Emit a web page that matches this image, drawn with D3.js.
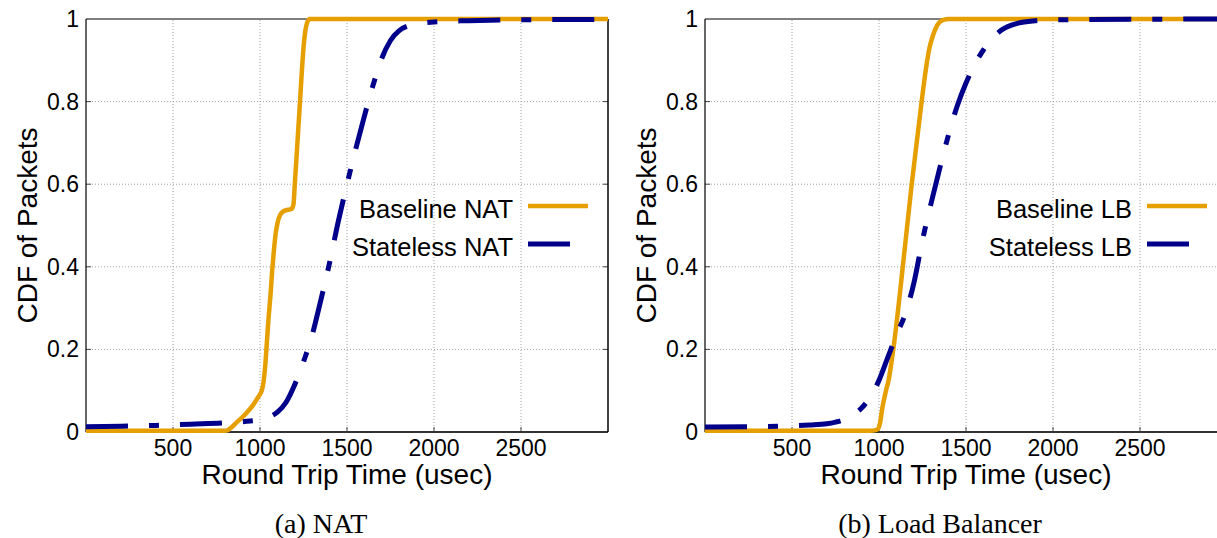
<!DOCTYPE html>
<html>
<head>
<meta charset="utf-8">
<script src="https://cdn.jsdelivr.net/npm/d3@7"></script>
<style>
body { margin: 0; background: #fff; }
text { font-family: "Liberation Sans", Arial, sans-serif; fill: #000; }
.caption { font-family: "Liberation Serif", "Times New Roman", serif; }
</style>
</head>
<body>
<script>
var xTicks = [500, 1000, 1500, 2000, 2500];
var yTicks = [0, 0.2, 0.4, 0.6, 0.8, 1];
var yTickLabels = ['0', '0.2', '0.4', '0.6', '0.8', '1'];
var gridY = [0.2, 0.4, 0.6, 0.8];

// [rtt usec, cdf]
var natBaseline = [[0, 0.003], [800, 0.003], [820, 0.006], [870, 0.025], [920, 0.045],
  [960, 0.065], [990, 0.085], [1010, 0.1], [1020, 0.12], [1030, 0.16], [1040, 0.22],
  [1050, 0.28], [1060, 0.33], [1070, 0.39], [1080, 0.44], [1090, 0.48], [1100, 0.505],
  [1115, 0.525], [1130, 0.533], [1150, 0.537], [1180, 0.54], [1192, 0.55], [1200, 0.6],
  [1215, 0.7], [1230, 0.8], [1240, 0.87], [1250, 0.93], [1260, 0.97], [1270, 0.99],
  [1285, 1], [3000, 1]];
var natStateless = [[0, 0.013], [200, 0.014], [400, 0.016], [600, 0.019], [800, 0.022],
  [900, 0.025], [1000, 0.03], [1050, 0.036], [1100, 0.048], [1150, 0.072], [1200, 0.115],
  [1250, 0.17], [1300, 0.235], [1350, 0.32], [1400, 0.41], [1450, 0.51], [1500, 0.6],
  [1550, 0.685], [1600, 0.765], [1650, 0.84], [1700, 0.905], [1750, 0.948], [1800, 0.972],
  [1850, 0.983], [1900, 0.988], [2000, 0.993], [2200, 0.996], [2500, 0.998], [3000, 0.999]];
var lbBaseline = [[0, 0.003], [960, 0.003], [990, 0.006], [1005, 0.02], [1020, 0.06],
  [1040, 0.1], [1055, 0.125], [1082, 0.2], [1147, 0.44], [1188, 0.6], [1245, 0.8],
  [1270, 0.88], [1290, 0.93], [1310, 0.96], [1335, 0.985], [1370, 0.998], [1400, 1],
  [3000, 1]];
var lbStateless = [[0, 0.012], [300, 0.013], [500, 0.015], [600, 0.017], [700, 0.02],
  [750, 0.024], [800, 0.03], [850, 0.042], [900, 0.058], [950, 0.085], [1000, 0.125],
  [1050, 0.18], [1100, 0.235], [1150, 0.285], [1200, 0.36], [1250, 0.465], [1300, 0.555],
  [1350, 0.64], [1400, 0.72], [1450, 0.79], [1500, 0.845], [1550, 0.89], [1600, 0.925],
  [1650, 0.952], [1700, 0.972], [1800, 0.99], [1900, 0.996], [2000, 0.998], [3000, 1]];

var natNames = ['Baseline NAT', 'Stateless NAT'];
var lbNames = ['Baseline LB', 'Stateless LB'];
var captions = ['(a) NAT', '(b) Load Balancer'];

var colors = ['#e69f00', '#00008b'];
var dashes = [null, '42,21,10,21'];
var widths = [4.5, 5];

var width = 1217;
var height = 538;

var svg = d3.select('body').append('svg')
  .attr('width', width)
  .attr('height', height);

var panels = [
  {left: 86, series: [natBaseline, natStateless], names: natNames, caption: captions[0], rightBorder: true},
  {left: 705, series: [lbBaseline, lbStateless], names: lbNames, caption: captions[1], rightBorder: false}
];

var plotW = 522;
var plotTop = 19;
var plotBottom = 432;

panels.forEach(function(p) {
  var x = d3.scaleLinear().domain([0, 3000]).range([p.left, p.left + plotW]);
  var y = d3.scaleLinear().domain([0, 1]).range([plotBottom, plotTop]);
  var g = svg.append('g');

  // grid
  g.selectAll('.gx').data(xTicks).enter().append('line')
    .attr('x1', x).attr('x2', x)
    .attr('y1', plotBottom).attr('y2', plotTop)
    .attr('stroke', '#a0a0a0').attr('stroke-width', 1)
    .attr('stroke-dasharray', '1,2');
  g.selectAll('.gy').data(gridY).enter().append('line')
    .attr('x1', x(0)).attr('x2', x(3000))
    .attr('y1', y).attr('y2', y)
    .attr('stroke', '#a0a0a0').attr('stroke-width', 1)
    .attr('stroke-dasharray', '1,2');

  // inner ticks
  g.selectAll('.tx').data(xTicks).enter().append('line')
    .attr('x1', x).attr('x2', x)
    .attr('y1', plotBottom).attr('y2', plotBottom - 5)
    .attr('stroke', '#444');
  g.selectAll('.ty').data(gridY).enter().append('line')
    .attr('x1', x(0)).attr('x2', x(0) + 5)
    .attr('y1', y).attr('y2', y)
    .attr('stroke', '#444');
  if (p.rightBorder) {
    g.selectAll('.ty2').data(gridY).enter().append('line')
      .attr('x1', x(3000)).attr('x2', x(3000) - 5)
      .attr('y1', y).attr('y2', y)
      .attr('stroke', '#444');
  }

  // border
  g.append('line').attr('x1', x(0)).attr('x2', x(3000)).attr('y1', plotTop).attr('y2', plotTop)
    .attr('stroke', '#000').attr('stroke-width', 1);
  g.append('line').attr('x1', x(0)).attr('x2', x(0)).attr('y1', plotTop).attr('y2', plotBottom)
    .attr('stroke', '#000').attr('stroke-width', 1.2);
  g.append('line').attr('x1', x(0)).attr('x2', x(3000)).attr('y1', plotBottom).attr('y2', plotBottom)
    .attr('stroke', '#333').attr('stroke-width', 2);
  if (p.rightBorder) {
    g.append('line').attr('x1', x(3000)).attr('x2', x(3000)).attr('y1', plotTop).attr('y2', plotBottom)
      .attr('stroke', '#000').attr('stroke-width', 1.5);
  }

  // tick labels
  g.selectAll('.lx').data(xTicks).enter().append('text')
    .attr('x', x).attr('y', 456)
    .attr('text-anchor', 'middle')
    .style('font-size', '23px')
    .text(function(d) { return d; });
  g.selectAll('.ly').data(yTicks).enter().append('text')
    .attr('x', x(0) - 7).attr('y', function(d) { return y(d) + 8; })
    .attr('text-anchor', 'end')
    .style('font-size', '23px')
    .text(function(d, i) { return yTickLabels[i]; });

  // axis titles
  g.append('text')
    .attr('x', (x(0) + x(3000)) / 2).attr('y', 484)
    .attr('text-anchor', 'middle')
    .style('font-size', '28px')
    .text('Round Trip Time (usec)');
  g.append('text')
    .attr('transform', 'translate(' + (x(0) - 49) + ',' + ((plotTop + plotBottom) / 2) + ') rotate(-90)')
    .attr('text-anchor', 'middle')
    .style('font-size', '28px')
    .text('CDF of Packets');

  // curves
  var line = d3.line()
    .x(function(d) { return x(d[0]); })
    .y(function(d) { return y(d[1]); })
    .curve(d3.curveMonotoneX);
  p.series.forEach(function(s, i) {
    g.append('path')
      .datum(s)
      .attr('d', line)
      .attr('fill', 'none')
      .attr('stroke', colors[i])
      .attr('stroke-width', widths[i])
      .attr('stroke-dasharray', dashes[i])
      .attr('stroke-linecap', 'butt');
  });

  // legend
  var lx2 = x(3000) - 20;
  var lx1 = lx2 - 60;
  p.names.forEach(function(name, i) {
    var ly = 206 + i * 38;
    g.append('text')
      .attr('x', lx1 - 15).attr('y', ly + 12)
      .attr('text-anchor', 'end')
      .style('font-size', '25.5px')
      .text(name);
    g.append('line')
      .attr('x1', lx1).attr('x2', lx2)
      .attr('y1', ly).attr('y2', ly)
      .attr('stroke', colors[i])
      .attr('stroke-width', widths[i])
      .attr('stroke-dasharray', dashes[i]);
  });

  // caption
  g.append('text')
    .attr('class', 'caption')
    .attr('x', (x(0) + x(3000)) / 2 - 26).attr('y', 533)
    .attr('text-anchor', 'middle')
    .style('font-size', '28px')
    .text(p.caption);
});
</script>
</body>
</html>
